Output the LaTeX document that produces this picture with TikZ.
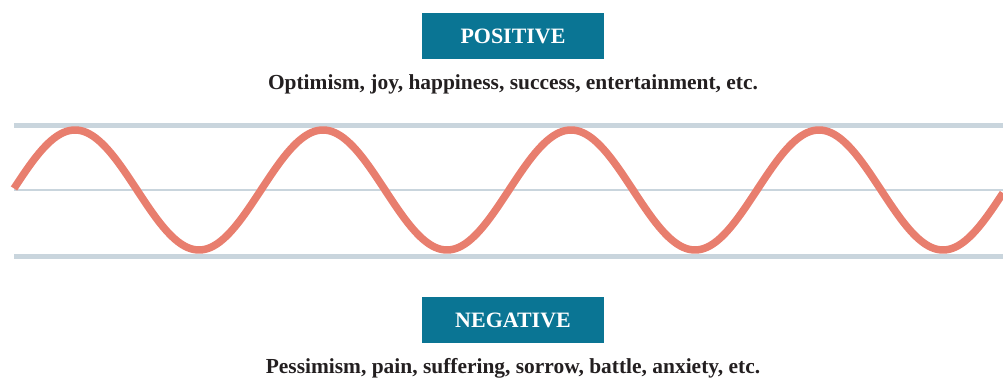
\documentclass[tikz,border=0pt]{standalone}
\usepackage{fontspec}
\setmainfont{Liberation Serif}
\definecolor{boxblue}{RGB}{10,117,148}
\definecolor{wavered}{RGB}{232,126,110}
\definecolor{railgray}{RGB}{201,213,221}
\definecolor{textdark}{RGB}{35,31,32}
\tikzset{
  labelbox/.style={fill=boxblue,text=white,font=\bfseries\fontsize{12.5}{14}\selectfont,
    minimum width=182*0.02cm,minimum height=46*0.02cm,inner sep=0pt},
  desc/.style={text=textdark,font=\bfseries\fontsize{12.2}{14}\selectfont,inner sep=0pt},
  rail/.style={railgray,line width=5*0.02cm}
}
\begin{document}
\begin{tikzpicture}[x=0.02cm,y=-0.02cm,line join=round]
		\useasboundingbox (0,0) rectangle (1003,378);
		\draw[rail] (14,126)--(1003,126);
		\draw[rail,line width=2.5*0.02cm] (14,190)--(1003,190);
		\draw[rail] (14,256)--(1003,256);
		\draw[wavered,line width=7.5*0.02cm,smooth,samples=400,domain=14:1003] plot(\x,{190-60*sin((\x-13)*1.451613)});
		\node[labelbox] (pos) at (513,36) {POSITIVE};
		\node[desc] (posdesc) at (513,84) {Optimism, joy, happiness, success, entertainment, etc.};
		\node[labelbox] (neg) at (513,320) {NEGATIVE};
		\node[desc] (negdesc) at (513,368) {Pessimism, pain, suffering, sorrow, battle, anxiety, etc.};
	\end{tikzpicture}
\end{document}
